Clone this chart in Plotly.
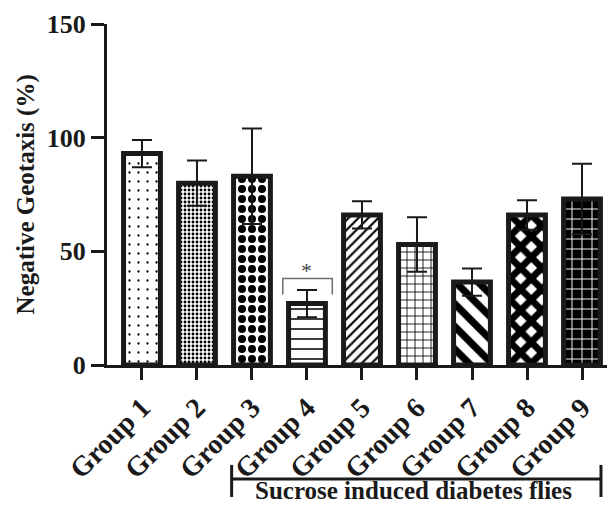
import plotly.graph_objects as go

# Negative geotaxis climbing assay, mean ± SD per group
groups = ["Group 1", "Group 2", "Group 3", "Group 4", "Group 5",
          "Group 6", "Group 7", "Group 8", "Group 9"]
means = [93, 80, 83, 27, 66, 53, 36.5, 66, 73]
errors = [6, 10, 21, 6, 6, 12, 6, 6.5, 15.5]

# Fill textures for each bar
shapes = [".", ".", ".", "-", "/", "+", "\\", "x", "+"]
sizes = [9, 4, 10, 10, 7, 8, 16, 15, 10]
solidity = [0.05, 0.4, 0.5, 0.15, 0.3, 0.2, 0.45, 0.7, 0.18]
fgcols = ["black"] * 8 + ["white"]
bgcols = ["white"] * 8 + ["black"]

y_ticks = [0, 50, 100, 150]
sig_group = "Group 4"
sig_label = "*"
bracket_label = "Sucrose induced diabetes flies"

FONT = "Liberation Serif"
INK = "#1a1a1a"

fig = go.Figure()
fig.add_trace(go.Bar(
    x=groups, y=means,
    width=0.67,
    marker=dict(
        color="white",
        line=dict(color=INK, width=5),
        pattern=dict(shape=shapes, size=sizes, solidity=solidity,
                     fgcolor=fgcols, bgcolor=bgcols, fillmode="replace"),
    ),
    error_y=dict(type="data", array=errors, visible=True,
                 color=INK, thickness=2, width=10),
))

# significance bracket over Group 4
gi = groups.index(sig_group)
top = means[gi] + errors[gi]
fig.add_shape(type="path",
              path=f"M {gi-0.44} {top-2} L {gi-0.44} {top+5} L {gi+0.46} {top+5} L {gi+0.46} {top-2}",
              line=dict(color="#6e6e6e", width=1.5), xref="x", yref="y")
fig.add_annotation(x=gi, y=top + 8.5, text=sig_label, showarrow=False,
                   font=dict(family=FONT, size=22, color="#444444"),
                   xref="x", yref="y", yanchor="middle")

# bracket marking the diabetic groups
x0, x1 = 1.63, 8.345
fig.add_shape(type="line", x0=x0, x1=x1, y0=-0.334, y1=-0.334,
              xref="x", yref="paper", line=dict(color=INK, width=3))
for xx in (x0, x1):
    fig.add_shape(type="line", x0=xx, x1=xx, y0=-0.293, y1=-0.387,
                  xref="x", yref="paper", line=dict(color=INK, width=3))
fig.add_annotation(x=(x0 + x1) / 2 - 0.05, y=-0.368, text=bracket_label,
                   showarrow=False, xref="x", yref="paper",
                   xanchor="center", yanchor="middle",
                   font=dict(family=FONT, size=25, color=INK, weight="bold"))

# y axis title
fig.add_annotation(x=-0.164, y=0.5, xref="paper", yref="paper",
                   text="Negative Geotaxis (%)", textangle=-90, showarrow=False,
                   xanchor="center", yanchor="middle",
                   font=dict(family=FONT, size=25, color=INK, weight="bold"))

fig.update_layout(
    width=612, height=507,
    margin=dict(l=107, r=5, t=24, b=142),
    plot_bgcolor="white", paper_bgcolor="white",
    showlegend=False,
    font=dict(family=FONT, color=INK),
    xaxis=dict(
        type="category", range=[-0.636, 8.4545],
        showline=True, linecolor=INK, linewidth=3,
        ticks="outside", ticklen=12, tickwidth=3, tickcolor=INK,
        tickangle=-45, showgrid=False, zeroline=False,
        tickfont=dict(family=FONT, size=28, color=INK, weight="bold"),
    ),
    yaxis=dict(
        range=[0, 150], tickvals=y_ticks,
        showline=True, linecolor=INK, linewidth=3,
        ticks="outside", ticklen=13, tickwidth=3, tickcolor=INK,
        showgrid=False, zeroline=False,
        tickfont=dict(family=FONT, size=26, color=INK, weight="bold"),
    ),
)

fig.write_html("out.html")
